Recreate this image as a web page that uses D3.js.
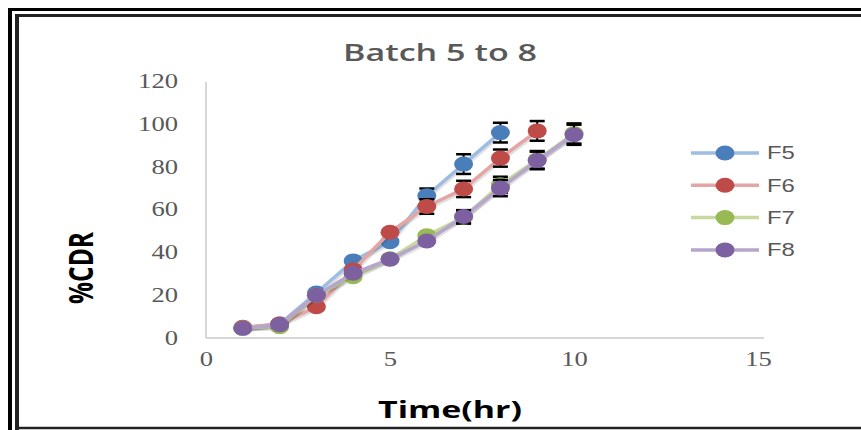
<!DOCTYPE html>
<html>
<head>
<meta charset="utf-8">
<script src="https://cdn.jsdelivr.net/npm/d3@7"></script>
<style>
  body { margin: 0; background: #fff; }
  svg { display: block; }
</style>
</head>
<body>
<svg id="chart" width="861" height="430"></svg>
<script>
// ---------------- data ----------------
const times = [1, 2, 3, 4, 5, 6, 7, 8, 9, 10];
const seriesNames = ["F5", "F6", "F7", "F8"];
const f5 = [4.7, 6.5, 21, 36, 45, 66.4, 81.2, 95.9];
const f6 = [5, 6.5, 14.6, 31.8, 49.4, 61.4, 69.6, 84, 96.7];
const f7 = [4.7, 5.3, 20, 28.6, 37, 47.8, 56.4, 71.5, 83.2, 95.5];
const f8 = [4.5, 6.2, 20, 30.2, 36.8, 45.3, 56.7, 70, 82.9, 94.9];
const f5Err = [0, 0, 0, 0, 0, 3.4, 4.6, 4.6];
const f6Err = [0, 0, 0, 0, 0, 3.4, 3.8, 4, 4.6];
const f7Err = [0, 0, 0, 0, 0, 0, 3, 3.8, 4.1, 4.7];
const f8Err = [0, 0, 0, 0, 0, 0, 3, 3.8, 4.1, 4.7];
const xTicks = [0, 5, 10, 15];
const yTicks = [0, 20, 40, 60, 80, 100, 120];
const markerColors = ["#4a7ebb", "#be4b48", "#98b954", "#7d60a0"];
const lineColors = ["#9dbde3", "#e4a5a4", "#c6da9f", "#b6a6cb"];

const allValues = [f5, f6, f7, f8];
const allErrs = [f5Err, f6Err, f7Err, f8Err];

// the picture is stretched sideways, text follows that
const SX = 1.33;

const svg = d3.select("#chart");

// ---------------- frame ----------------
svg.append("line").attr("x1", 10).attr("x2", 10).attr("y1", 8).attr("y2", 430)
  .attr("stroke", "#000").attr("stroke-width", 4);
svg.append("line").attr("x1", 8).attr("x2", 861).attr("y1", 9.5).attr("y2", 9.5)
  .attr("stroke", "#000").attr("stroke-width", 3);
svg.append("line").attr("x1", 17).attr("x2", 17).attr("y1", 14).attr("y2", 430)
  .attr("stroke", "#222").attr("stroke-width", 4);
svg.append("line").attr("x1", 15).attr("x2", 861).attr("y1", 15.5).attr("y2", 15.5)
  .attr("stroke", "#222").attr("stroke-width", 3);
svg.append("line").attr("x1", 15).attr("x2", 861).attr("y1", 428).attr("y2", 428)
  .attr("stroke", "#222").attr("stroke-width", 2.5);

// ---------------- scales ----------------
const plot = { left: 206, right: 758, top: 81, bottom: 338 };
const xScale = d3.scaleLinear().domain([0, 15]).range([plot.left, plot.right]);
const yScale = d3.scaleLinear().domain([0, 120]).range([plot.bottom, plot.top]);

// axis lines
svg.append("line").attr("x1", plot.left).attr("x2", plot.left)
  .attr("y1", 82).attr("y2", plot.bottom)
  .attr("stroke", "#c8c8c8").attr("stroke-width", 1.5);
svg.append("line").attr("x1", plot.left).attr("x2", 764)
  .attr("y1", plot.bottom).attr("y2", plot.bottom)
  .attr("stroke", "#c8c8c8").attr("stroke-width", 1.5);

// x axis
const gx = svg.append("g").attr("transform", `translate(0,${plot.bottom})`)
  .call(d3.axisBottom(xScale).tickValues(xTicks).tickSize(0).tickPadding(22));
gx.select(".domain").remove();
gx.selectAll("text")
  .attr("dy", "0.32em")
  .attr("transform", `scale(${SX},1)`)
  .style("font-family", "'Liberation Serif', serif")
  .style("font-size", "20px")
  .style("fill", "#595959");

// y axis
const gy = svg.append("g").attr("transform", `translate(178,0)`)
  .call(d3.axisLeft(yScale).tickValues(yTicks).tickSize(0).tickPadding(0));
gy.select(".domain").remove();
gy.selectAll("text")
  .attr("x", 0)
  .attr("transform", `scale(${SX},1)`)
  .style("font-family", "'Liberation Serif', serif")
  .style("font-size", "20px")
  .style("fill", "#595959");

// ---------------- titles ----------------
svg.append("text")
  .attr("x", 440).attr("y", 61)
  .attr("text-anchor", "middle")
  .attr("textLength", 194).attr("lengthAdjust", "spacingAndGlyphs")
  .style("font-family", "'Open Sans', sans-serif")
  .style("font-weight", "600")
  .style("font-size", "24px")
  .style("fill", "#595959")
  .text("Batch 5 to 8");

svg.append("text")
  .attr("x", 450).attr("y", 418)
  .attr("text-anchor", "middle")
  .attr("textLength", 144).attr("lengthAdjust", "spacingAndGlyphs")
  .style("font-family", "'Open Sans', sans-serif")
  .style("font-weight", "700")
  .style("font-size", "24px")
  .style("fill", "#000")
  .text("Time(hr)");

svg.append("text")
  .attr("transform", `translate(93,268) rotate(-90) scale(1,${SX})`)
  .attr("text-anchor", "middle")
  .attr("textLength", 72).attr("lengthAdjust", "spacingAndGlyphs")
  .style("font-family", "'Open Sans', sans-serif")
  .style("font-weight", "700")
  .style("font-size", "25px")
  .style("fill", "#000")
  .text("%CDR");

// ---------------- series ----------------
const line = d3.line().x(d => xScale(d.t)).y(d => yScale(d.v));

seriesNames.forEach((name, i) => {
  const pts = allValues[i].map((v, j) => ({ t: times[j], v: v, e: allErrs[i][j] }));
  const g = svg.append("g").attr("class", "series_" + name);

  // soft shadow under the line
  g.append("path").datum(pts)
    .attr("d", line)
    .attr("transform", "translate(1,2)")
    .attr("fill", "none")
    .attr("stroke", "rgba(0,0,0,0.12)")
    .attr("stroke-width", 3.5);

  g.append("path").datum(pts)
    .attr("d", line)
    .attr("fill", "none")
    .attr("stroke", lineColors[i])
    .attr("stroke-width", 3.5)
    .attr("stroke-linejoin", "round");

  // error bars
  const eb = pts.filter(d => d.e > 0);
  g.selectAll("line.errV").data(eb).join("line")
    .attr("class", "errV")
    .attr("x1", d => xScale(d.t)).attr("x2", d => xScale(d.t))
    .attr("y1", d => yScale(d.v + d.e)).attr("y2", d => yScale(d.v - d.e))
    .attr("stroke", "#000").attr("stroke-width", 2);
  g.selectAll("line.capTop").data(eb).join("line")
    .attr("class", "capTop")
    .attr("x1", d => xScale(d.t) - 7.5).attr("x2", d => xScale(d.t) + 7.5)
    .attr("y1", d => yScale(d.v + d.e)).attr("y2", d => yScale(d.v + d.e))
    .attr("stroke", "#000").attr("stroke-width", 2.5);
  g.selectAll("line.capBot").data(eb).join("line")
    .attr("class", "capBot")
    .attr("x1", d => xScale(d.t) - 7.5).attr("x2", d => xScale(d.t) + 7.5)
    .attr("y1", d => yScale(d.v - d.e)).attr("y2", d => yScale(d.v - d.e))
    .attr("stroke", "#000").attr("stroke-width", 2.5);

  // markers
  g.selectAll("ellipse.marker").data(pts).join("ellipse")
    .attr("class", "marker")
    .attr("cx", d => xScale(d.t))
    .attr("cy", d => yScale(d.v))
    .attr("rx", 9.5).attr("ry", 7.5)
    .attr("fill", markerColors[i]);
});

// ---------------- legend ----------------
const legend = svg.append("g").attr("class", "legend");
seriesNames.forEach((name, i) => {
  const ly = 153 + i * 32.3;
  legend.append("line")
    .attr("x1", 691).attr("x2", 759).attr("y1", ly).attr("y2", ly)
    .attr("stroke", lineColors[i]).attr("stroke-width", 3.5);
  legend.append("ellipse")
    .attr("cx", 725).attr("cy", ly).attr("rx", 9.5).attr("ry", 7.5)
    .attr("fill", markerColors[i]);
  legend.append("text")
    .attr("transform", `translate(767,${ly}) scale(${SX},1)`)
    .attr("dy", "0.35em")
    .style("font-family", "'Liberation Sans', sans-serif")
    .style("font-size", "18px")
    .style("fill", "#595959")
    .text(name);
});
</script>
</body>
</html>
